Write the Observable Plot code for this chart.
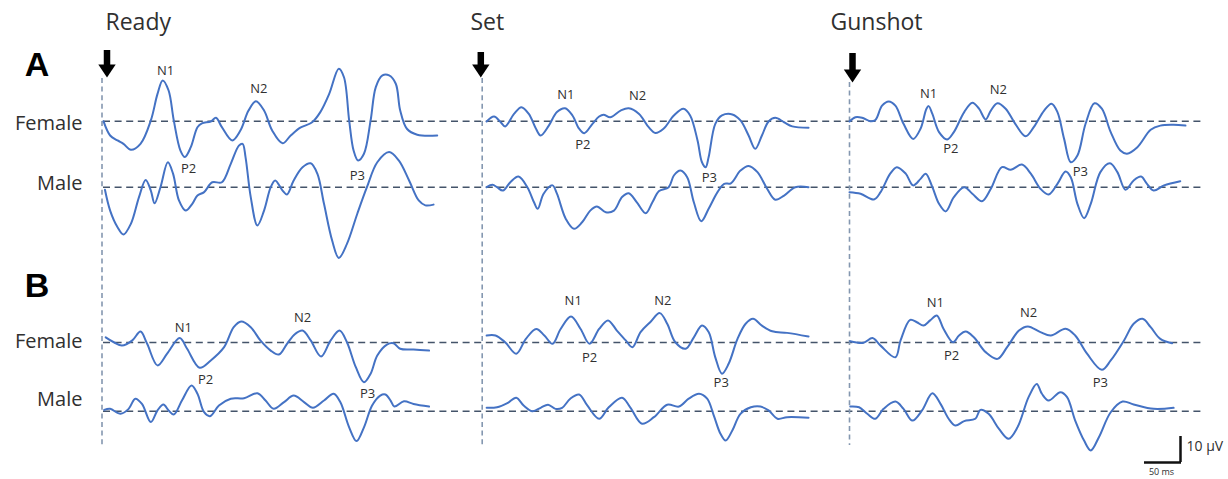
<!DOCTYPE html>
<html>
<head>
<meta charset="utf-8">
<script src="https://cdn.jsdelivr.net/npm/d3@7"></script>
<script src="https://cdn.jsdelivr.net/npm/@observablehq/plot@0.6"></script>
<style>
  html, body { margin: 0; padding: 0; background: #fff; }
  svg { display: block; }
</style>
</head>
<body>
<div id="chart"></div>
<script>
// ---------------- DATA ----------------
const conditions = ["Ready", "Set", "Gunshot"];
const panels = ["A", "B"];
const groups = ["Female", "Male"];
const components = ["N1", "P2", "N2", "P3"];

// ERP traces: [time (ms after signal), amplitude (µV, negative plotted upward)]
const readyFemaleA = [[2,0],[11,5.5],[21,7.4],[29,8.7],[39,11.0],[52,8.7],[66,-0.3],[75,-10.5],[82,-15.7],[90,-11.8],[97,-0.3],[106,11.3],[112,13.8],[120,10.0],[129,2.3],[135,0.8],[147,0.1],[154,-1.3],[162,2.3],[176,7.4],[187,3.6],[198,-4.1],[208,-7.7],[219,-4.1],[230,3.6],[244,8.5],[255,5.5],[268,2.5],[284,0.4],[295,-3.5],[307,-10.5],[320,-20.2],[327,-16.9],[334,-0.3],[340,11.3],[346,15.1],[354,12.5],[363,-0.3],[370,-13.1],[379,-17.6],[388,-17.6],[397,-14.4],[403,-4.1],[412,2.9],[426,5.2],[453,5.5]];
const readyMaleA = [[4,1.0],[11,9.0],[21,15.4],[29,18.2],[39,14.1],[50,3.8],[59,-2.8],[66,1.3],[71,6.2],[79,0],[89,-9.6],[96,-5.2],[104,5.1],[113,9.0],[122,6.4],[129,3.2],[138,1.9],[149,-1.9],[162,-1.9],[174,-9.0],[185,-16.0],[190,-16.7],[194,-11.5],[201,3.8],[210,14.7],[219,9.0],[228,0],[234,-2.6],[244,1.3],[250,2.8],[259,-2.6],[271,-7.7],[282,-9.2],[291,-5.2],[300,6.4],[311,20.5],[320,27.2],[331,21.8],[345,10.2],[358,0],[372,-9.6],[388,-13.5],[401,-10.3],[415,-2.6],[428,5.1],[437,7.0],[448,6.7]];
const setFemaleA = [[6,0.1],[16,-1.8],[25,0.4],[31,2.0],[43,-2.8],[53,-5.4],[63,-2.8],[72,2.5],[79,5.5],[90,1.7],[101,-3.5],[112,-5.0],[122,-2.2],[131,2.9],[138,4.6],[149,1.0],[158,-1.8],[164,-2.5],[173,-1.5],[187,-4.1],[198,-5.0],[212,-2.8],[225,2.3],[234,4.5],[245,2.9],[259,-2.2],[272,-4.8],[281,-2.2],[291,7.4],[297,15.8],[302,17.7],[306,13.8],[315,1.0],[324,-2.2],[338,-2.6],[349,-0.3],[360,5.5],[369,10.6],[378,5.5],[387,0.1],[396,-1.3],[408,0.4],[419,2.0],[441,2.5]];
const setMaleA = [[6,0],[14,-0.9],[20,0],[28,1.3],[38,-1.9],[49,-4.1],[61,0],[70,5.8],[75,8.3],[83,2.5],[95,-0.7],[101,2.5],[113,12.2],[124,16.0],[135,13.5],[146,9.0],[155,7.4],[167,9.6],[178,9.0],[189,3.8],[198,2.3],[209,5.8],[221,10.0],[230,5.8],[239,1.5],[252,0],[259,-4.5],[268,-6.4],[277,-3.8],[286,5.8],[296,13.1],[306,8.3],[318,1.9],[327,-1.3],[336,-1.5],[349,-6.4],[360,-8.2],[372,-5.8],[385,0.6],[396,4.8],[408,3.2],[423,0],[441,0]];
const gunshotFemaleA = [[0,0.1],[8,-1.5],[17,-1.3],[28,0],[35,-0.5],[44,-6.0],[53,-7.6],[62,-6.0],[73,1.0],[86,6.8],[96,2.9],[104,-4.8],[107,-5.8],[112,-2.8],[121,4.2],[132,7.0],[141,4.2],[155,-3.5],[166,-7.1],[175,-4.8],[184,-0.7],[191,-4.1],[200,-6.9],[211,-4.8],[224,1.0],[238,5.8],[249,2.3],[263,-4.1],[273,-6.7],[281,-3.5],[290,6.8],[299,15.8],[308,13.2],[319,1.0],[331,-6.9],[341,-4.8],[353,4.2],[366,11.3],[375,12.5],[389,10.0],[407,3.3],[420,1.7],[438,1.4],[454,1.7]];
const gunshotMaleA = [[0,1.9],[15,2.5],[33,4.7],[42,1.9],[55,-5.2],[64,-7.7],[76,-5.2],[86,-0.7],[96,-3.2],[103,-5.2],[112,0],[121,6.4],[130,9.3],[141,3.8],[155,0],[166,2.5],[179,5.4],[191,0.6],[206,-7.7],[218,-6.7],[233,-8.7],[245,-5.2],[258,0.6],[269,2.8],[281,-1.3],[292,-6.0],[299,-3.8],[308,6.4],[317,11.9],[326,6.4],[339,-5.8],[352,-9.2],[362,-5.8],[373,1.0],[384,-2.6],[394,-4.1],[402,-1.3],[411,1.3],[425,-0.7],[447,-2.3]];
const readyFemaleB = [[5,-2.0],[16,-0.1],[27,1.2],[41,-0.8],[52,-4.2],[61,0.5],[75,8.8],[88,4.3],[105,-1.7],[115,2.4],[132,9.7],[147,6.9],[165,1.8],[178,-5.9],[188,-8.1],[201,-5.9],[214,-0.8],[228,3.1],[239,4.6],[250,0.5],[261,-3.3],[271,-4.6],[282,-0.8],[296,5.4],[309,-0.8],[321,-4.6],[331,-0.1],[343,9.5],[354,15.3],[363,12.0],[372,5.0],[385,0.8],[394,0.3],[403,2.4],[421,2.7],[442,3.1]];
const readyMaleB = [[3,-0.5],[11,-0.9],[25,1.0],[36,-0.9],[45,-4.8],[54,-2.8],[66,4.2],[75,-0.3],[83,-2.6],[90,-0.3],[97,1.3],[108,-4.1],[121,-9.9],[129,-6.7],[138,0.4],[146,1.9],[158,-2.2],[174,-4.8],[192,-5.0],[210,-6.9],[221,-4.1],[232,-0.9],[246,-3.5],[259,-6.0],[273,-3.5],[285,-1.3],[300,-4.1],[313,-6.7],[322,-3.5],[334,6.2],[344,11.5],[354,6.2],[365,-2.2],[376,-6.0],[383,-6.4],[390,-4.1],[395,-1.8],[408,-3.8],[421,-2.8],[442,-1.8]];
const setFemaleB = [[6,-2.7],[18,-2.7],[31,-0.1],[46,4.3],[59,-1.4],[73,-5.2],[84,-2.7],[95,0.5],[106,-5.2],[120,-10.0],[133,-5.2],[145,0.5],[158,-5.2],[170,-8.5],[182,-4.6],[194,-0.8],[203,1.8],[214,-4.0],[227,-7.8],[240,-11.3],[250,-7.2],[261,-0.1],[275,2.4],[286,-2.0],[297,-6.5],[306,-4.0],[315,5.7],[324,12.0],[333,8.2],[345,-1.4],[356,-7.2],[366,-9.1],[378,-6.5],[392,-4.3],[412,-3.7],[441,-2.3]];
const setMaleB = [[6,-1.3],[20,-1.5],[34,-3.1],[46,-5.2],[56,-2.2],[68,0],[79,-1.3],[89,-2.5],[99,-0.9],[108,-1.3],[119,-4.8],[131,-6.4],[142,-2.2],[158,2.9],[171,-1.5],[189,-5.2],[200,-1.5],[216,4.8],[232,2.3],[250,-2.5],[266,-1.8],[279,-4.8],[293,-6.7],[304,-4.8],[313,1.7],[322,8.7],[329,11.3],[338,7.4],[349,1.0],[363,-1.5],[376,-1.8],[387,-0.3],[399,2.9],[412,2.3],[441,2.5]];
const gunshotFemaleB = [[1,-0.5],[19,0.1],[31,-1.7],[42,1.2],[62,5.7],[69,-0.8],[82,-8.7],[91,-7.8],[100,-6.5],[109,-8.5],[118,-10.4],[127,-5.3],[140,-0.1],[148,-2.7],[157,-4.2],[168,-2.0],[184,3.7],[200,6.3],[213,1.8],[229,-4.6],[241,-6.2],[258,-4.0],[272,-2.7],[292,-5.3],[305,-2.7],[321,4.3],[341,10.5],[353,6.9],[371,-0.8],[384,-7.2],[396,-9.1],[407,-5.9],[420,-1.4],[436,0.3]];
const gunshotMaleB = [[1,-1.8],[13,-1.5],[24,1.0],[35,2.9],[46,-0.9],[62,-3.7],[73,-0.9],[85,3.6],[98,-0.3],[112,-6.9],[123,-2.8],[134,2.9],[143,5.5],[155,3.8],[170,2.9],[177,-0.5],[188,1.0],[202,6.8],[215,10.6],[227,6.2],[242,-5.4],[253,-10.5],[260,-6.7],[269,-4.1],[285,-7.3],[294,-5.4],[305,3.6],[317,11.3],[326,15.1],[337,10.0],[353,0.4],[369,-3.7],[384,-2.6],[411,-0.9],[438,-1.3]];

// Component labels: [condition, panel, component, latency (ms), amplitude (µV rel. to Female row)]
const componentLabels = [
  ["Ready","A","N1",86,-19.5],["Ready","A","P2",117,18.2],["Ready","A","N2",212,-12.6],["Ready","A","P3",345,20.9],
  ["Set","A","N1",113,-10.3],["Set","A","P2",136,8.9],["Set","A","N2",210,-9.9],["Set","A","P3",307,21.7],
  ["Gunshot","A","N1",107,-10.7],["Gunshot","A","P2",137,10.5],["Gunshot","A","N2",201,-12.2],["Gunshot","A","P3",312,19.3],
  ["Ready","B","N1",110,-5.8],["Ready","B","P2",140,14.2],["Ready","B","N2",271,-9.6],["Ready","B","P3",359,19.6],
  ["Set","B","N1",123,-16.2],["Set","B","P2",145,5.8],["Set","B","N2",244,-16.2],["Set","B","P3",323,15.7],
  ["Gunshot","B","N1",116,-15.4],["Gunshot","B","P2",138,5.0],["Gunshot","B","N2",242,-11.5],["Gunshot","B","P3",339,15.4]
];

// Scale bar
const scaleBarMs = 50;
const scaleBarUv = 10;

// ---------------- LAYOUT ----------------
const W = 1228, H = 479;
const PX_PER_MS = 37 / 50, PX_PER_UV = 26 / 10;
const msAt = px => px / PX_PER_MS;
const uvAt = px => px / PX_PER_UV;
const onsetPx = {Ready: 101.5, Set: 481.7, Gunshot: 849};
const titlePx = {Ready: 105, Set: 470, Gunshot: 830};
const arrowPx = {Ready: [106.5, 50, 77], Set: [480.3, 52, 77], Gunshot: [852, 53, 82]};
const vlineTopPx = {Ready: 78, Set: 78, Gunshot: 82};
const rowPx = {AFemale: 120.7, AMale: 186.7, BFemale: 342, BMale: 410.7};
const groupLabelPx = {AFemale: 123, AMale: 183, BFemale: 341, BMale: 399};
const panelLetterPx = {A: 65, B: 286};

const traceTable = [
  ["Ready","A","Female",readyFemaleA],["Ready","A","Male",readyMaleA],
  ["Set","A","Female",setFemaleA],["Set","A","Male",setMaleA],
  ["Gunshot","A","Female",gunshotFemaleA],["Gunshot","A","Male",gunshotMaleA],
  ["Ready","B","Female",readyFemaleB],["Ready","B","Male",readyMaleB],
  ["Set","B","Female",setFemaleB],["Set","B","Male",setMaleB],
  ["Gunshot","B","Female",gunshotFemaleB],["Gunshot","B","Male",gunshotMaleB]
];
const rows = traceTable.flatMap(([c, p, g, pts]) =>
  pts.map(([t, v]) => ({key: c + p + g, x: msAt(onsetPx[c]) + t, y: uvAt(rowPx[p + g]) + v})));

const rowKeys = panels.flatMap(p => groups.map(g => p + g));

const downTriangle = {
  draw(ctx, size) {
    const r = Math.sqrt(size / Math.PI);
    ctx.moveTo(-1.38 * r, -0.7 * r);
    ctx.lineTo(1.38 * r, -0.7 * r);
    ctx.lineTo(0, 1.35 * r);
    ctx.closePath();
  }
};

const textColor = "#303030";

const chart = Plot.plot({
  width: W, height: H,
  marginTop: 0, marginRight: 0, marginBottom: 0, marginLeft: 0,
  x: {domain: [0, msAt(W)], range: [0, W], axis: null},
  y: {domain: [0, uvAt(H)], range: [0, H], axis: null},
  style: {fontFamily: "'Open Sans', sans-serif", background: "#fff"},
  marks: [
    // baselines
    Plot.ruleY(rowKeys, {y: k => uvAt(rowPx[k]), x1: msAt(103), x2: msAt(1201),
      stroke: "#44546a", strokeWidth: 1.6, strokeDasharray: "7,4.6"}),
    // stimulus onset lines
    Plot.ruleX(conditions, {x: c => msAt(onsetPx[c]), y1: c => uvAt(vlineTopPx[c]), y2: uvAt(445),
      stroke: "#8497b0", strokeWidth: 1.6, strokeDasharray: "5,3.6"}),
    // arrows
    Plot.ruleX(conditions, {x: c => msAt(arrowPx[c][0]), y1: c => uvAt(arrowPx[c][1]), y2: c => uvAt(arrowPx[c][2] - 11),
      stroke: "#000", strokeWidth: 6.5}),
    Plot.dot(conditions, {x: c => msAt(arrowPx[c][0]), y: c => uvAt(arrowPx[c][2] - 8.5), symbol: downTriangle, r: 6.3,
      fill: "#000", stroke: "none"}),
    // traces
    Plot.line(rows, {x: "x", y: "y", z: "key", curve: "catmull-rom", stroke: "#4472c4", strokeWidth: 2}),
    // component labels
    Plot.text(componentLabels, {x: d => msAt(onsetPx[d[0]]) + d[3], y: d => uvAt(rowPx[d[1] + "Female"]) + d[4],
      text: d => d[2], fontSize: 13, fill: textColor}),
    // titles
    Plot.text(conditions, {x: c => msAt(titlePx[c]), y: uvAt(22), text: c => c, textAnchor: "start",
      fontSize: 23, fill: textColor}),
    // panel letters
    Plot.text(panels, {x: msAt(36.5), y: p => uvAt(panelLetterPx[p]), text: p => p, fontSize: 34,
      fontWeight: "bold", fill: "#000", fontFamily: "'Liberation Sans', Arial, sans-serif"}),
    // group labels
    Plot.text(rowKeys, {x: msAt(82), y: k => uvAt(groupLabelPx[k]), text: k => k.slice(1), textAnchor: "end",
      fontSize: 20, fill: textColor}),
    // scale bar
    Plot.ruleX([scaleBarUv], {x: msAt(1180), y1: v => uvAt(462) - v, y2: uvAt(462), stroke: "#111", strokeWidth: 2.5}),
    Plot.ruleY([scaleBarMs], {y: uvAt(462), x1: m => msAt(1181) - m, x2: msAt(1181), stroke: "#111", strokeWidth: 2.5}),
    Plot.text([scaleBarUv], {x: msAt(1186), y: uvAt(446.5), text: v => `${v} µV`, textAnchor: "start", fontSize: 14, fill: textColor}),
    Plot.text([scaleBarMs], {x: msAt(1161), y: uvAt(471.5), text: m => `${m} ms`, fontSize: 9, fill: textColor})
  ]
});
document.getElementById("chart").appendChild(chart);
</script>
</body>
</html>
